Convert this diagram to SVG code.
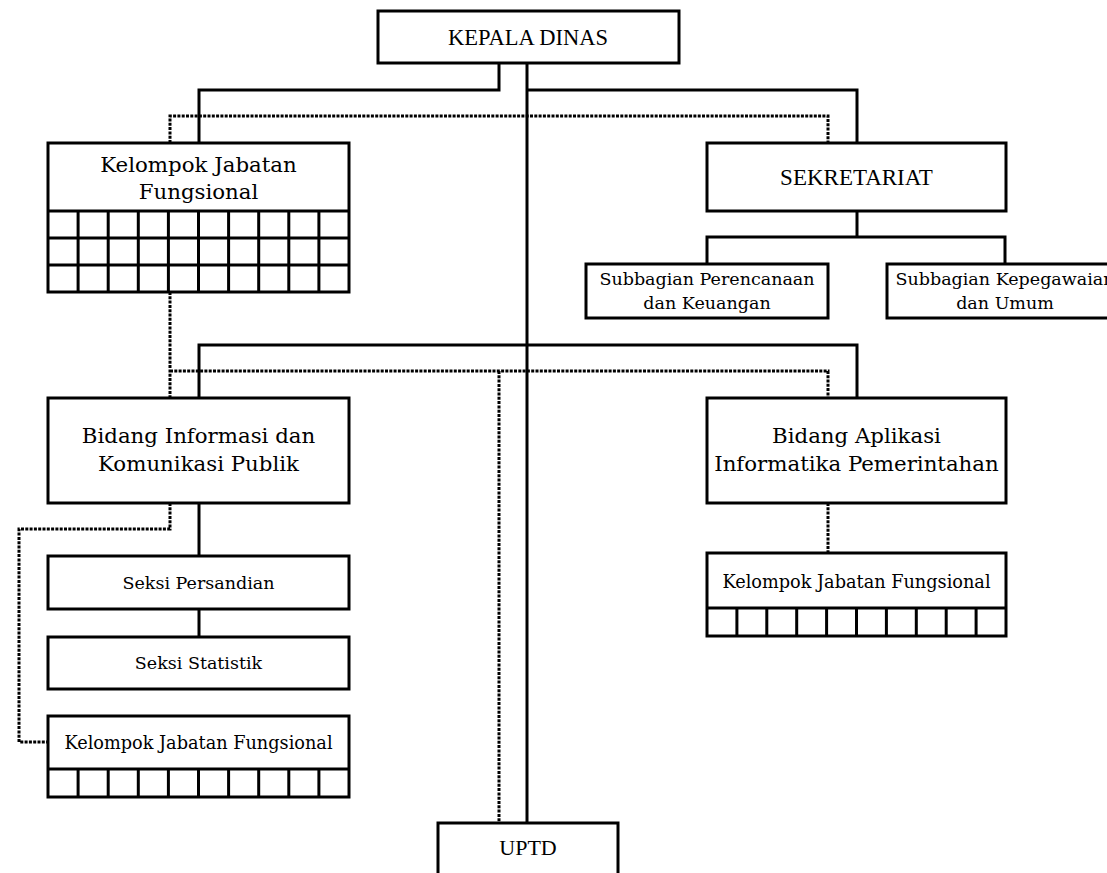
<svg xmlns="http://www.w3.org/2000/svg" width="1107" height="873" viewBox="0 0 1107 873">
<style>
.box{fill:#fff;stroke:#000;stroke-width:3}
.grid{fill:none;stroke:#000;stroke-width:3}
.solid{fill:none;stroke:#000;stroke-width:3}
.dot{fill:none;stroke:#000;stroke-width:3;stroke-dasharray:3 1.3}
.tm{font-family:"Liberation Serif","Times New Roman",serif;fill:#000;text-anchor:middle}
.bk{font-family:"DejaVu Serif","Liberation Serif",serif;fill:#000;text-anchor:middle}
</style>
<rect width="1107" height="873" fill="#fff"/>
<g id="connectors">
<path class="dot" d="M170,143 V116 H828 V143"/>
<path class="dot" d="M170,292 V398 M170,371 H828 V398 M499,371 V823"/>
<path class="dot" d="M170,503 V529 H19 V742 H48"/>
<path class="dot" d="M828,503 V553"/>
<path class="solid" d="M499,63 V90 H199 V143"/>
<path class="solid" d="M527,63 V823"/>
<path class="solid" d="M527,90 H857 V143"/>
<path class="solid" d="M857,211 V237 M707,264 V237 H1005 V264"/>
<path class="solid" d="M199,398 V345 H857 V398"/>
<path class="solid" d="M199,503 V556 M199,609 V637"/>
</g>
<g id="kepala">
<rect class="box" x="378" y="11" width="301" height="52"/>
<text class="tm" x="528" y="45" font-size="22.5">KEPALA DINAS</text>
</g>
<g id="kjf-top">
<rect class="box" x="48" y="143" width="301" height="149"/>
<path class="grid" d="M48,211 H349 M48,238 H349 M48,265 H349 M78.1,211 V292 M108.2,211 V292 M138.3,211 V292 M168.4,211 V292 M198.5,211 V292 M228.6,211 V292 M258.7,211 V292 M288.8,211 V292 M318.9,211 V292"/>
<text class="bk" x="198.5" y="172" font-size="21.3">Kelompok Jabatan</text>
<text class="bk" x="198.5" y="199" font-size="21.3">Fungsional</text>
</g>
<g id="sekretariat">
<rect class="box" x="707" y="143" width="299" height="68"/>
<text class="tm" x="856.5" y="184.5" font-size="23">SEKRETARIAT</text>
</g>
<g id="sub-perencanaan">
<rect class="box" x="586" y="264" width="242" height="54"/>
<text class="bk" x="707" y="285" font-size="17.5">Subbagian Perencanaan</text>
<text class="bk" x="707" y="309" font-size="17.5">dan Keuangan</text>
</g>
<g id="sub-kepegawaian">
<rect class="box" x="887" y="264" width="236" height="54"/>
<text class="bk" x="1005" y="285" font-size="17.5">Subbagian Kepegawaian</text>
<text class="bk" x="1005" y="309" font-size="17.5">dan Umum</text>
</g>
<g id="bidang-ikp">
<rect class="box" x="48" y="398" width="301" height="105"/>
<text class="bk" x="198.5" y="443" font-size="21.3">Bidang Informasi dan</text>
<text class="bk" x="198.5" y="471" font-size="21.3">Komunikasi Publik</text>
</g>
<g id="bidang-aip">
<rect class="box" x="707" y="398" width="299" height="105"/>
<text class="bk" x="856.5" y="443" font-size="21.3">Bidang Aplikasi</text>
<text class="bk" x="856.5" y="471" font-size="21.3">Informatika Pemerintahan</text>
</g>
<g id="seksi-persandian">
<rect class="box" x="48" y="556" width="301" height="53"/>
<text class="bk" x="198.5" y="589" font-size="17.5">Seksi Persandian</text>
</g>
<g id="seksi-statistik">
<rect class="box" x="48" y="637" width="301" height="52"/>
<text class="bk" x="198.5" y="669" font-size="17.5">Seksi Statistik</text>
</g>
<g id="kjf-bottom">
<rect class="box" x="48" y="716" width="301" height="81"/>
<path class="grid" d="M48,769 H349 M78.1,769 V797 M108.2,769 V797 M138.3,769 V797 M168.4,769 V797 M198.5,769 V797 M228.6,769 V797 M258.7,769 V797 M288.8,769 V797 M318.9,769 V797"/>
<text class="bk" x="198.5" y="749" font-size="17.7">Kelompok Jabatan Fungsional</text>
</g>
<g id="kjf-right">
<rect class="box" x="707" y="553" width="299" height="83"/>
<path class="grid" d="M707,608 H1006 M736.9,608 V636 M766.8,608 V636 M796.7,608 V636 M826.6,608 V636 M856.5,608 V636 M886.4,608 V636 M916.3,608 V636 M946.2,608 V636 M976.1,608 V636"/>
<text class="bk" x="856.5" y="588" font-size="17.7">Kelompok Jabatan Fungsional</text>
</g>
<g id="uptd">
<rect class="box" x="438" y="823" width="180" height="60"/>
<text class="tm" x="528" y="855" font-size="22">UPTD</text>
</g>
</svg>
